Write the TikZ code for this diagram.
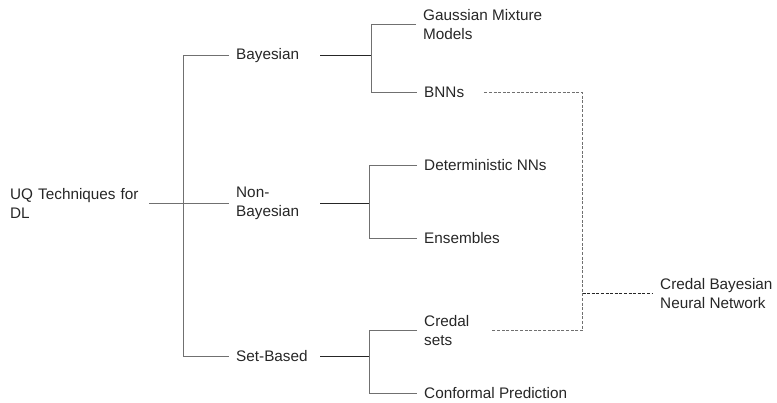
\documentclass[tikz,border=0pt]{standalone}
\usepackage{fontspec}
\setmainfont{Liberation Sans}
\usepackage{tikz}
\usetikzlibrary{calc,
                positioning
                }
\definecolor{txtgray}{HTML}{262626}
\definecolor{linegray}{HTML}{707070}
\tikzset{
    lbl/.style={anchor=west, inner xsep=7pt, inner ysep=0pt, align=left,
        text=txtgray, font=\fontsize{15.3}{18.5}\selectfont},
    midlbl/.style={lbl, text width=77pt},
    branch/.style={draw=linegray, line width=1pt},
    link/.style={draw=linegray, line width=1pt, dash pattern=on 3pt off 1.6pt}
}

\begin{document}
\begin{tikzpicture}[x=1pt, y=-1pt]
    \useasboundingbox (0,0) rectangle (777,403);

    \node[lbl, inner xsep=0pt, text width=139pt] (root) at (10,203.5) {UQ Techniques for\\DL};

    \node[midlbl] (bay) at (229,55.5) {Bayesian};
    \node[midlbl] (nonb) at (229,203.5) {Non-\\Bayesian};
    \node[midlbl] (setb) at (229,356.5) {Set-Based};

    \node[lbl] (gmm) at (416,24.5) {Gaussian Mixture\\Models};
    \node[lbl] (bnn) at (417,92.5) {BNNs};
    \node[lbl] (det) at (417,165.5) {Deterministic NNs};
    \node[lbl] (ens) at (417,238.5) {Ensembles};
    \node[lbl] (cred) at (417,330.5) {Credal\\sets};
    \node[lbl] (conf) at (417,393.5) {Conformal Prediction};

    \node[lbl] (cbnn) at (653,293.5) {Credal Bayesian\\Neural Network};

    \coordinate (r) at (183.5,203.5);
    \coordinate (b) at (371.5,55.5);
    \coordinate (n) at (369.5,203.5);
    \coordinate (s) at (369.5,356.5);
    \coordinate (join) at (582.5,293.5);

    \draw[branch] (root.east) -- (r) -- (nonb.west);
    \draw[branch] (bay.west) -| (r) |- (setb.west);

    \draw[branch, draw=txtgray] (bay.east) -- (b);
    \draw[branch] (gmm.west) -| (b) |- (bnn.west);
    \draw[branch, draw=txtgray] (nonb.east) -- (n);
    \draw[branch] (det.west) -| (n) |- (ens.west);
    \draw[branch, draw=txtgray] (setb.east) -- (s);
    \draw[branch] (cred.west) -| (s) |- (conf.west);

    \draw[link] ([xshift=13pt]bnn.east) -| (join) |- ([xshift=15pt]cred.east);
    \draw[link, draw=txtgray] (join) -- (cbnn.west);
\end{tikzpicture}
\end{document}
